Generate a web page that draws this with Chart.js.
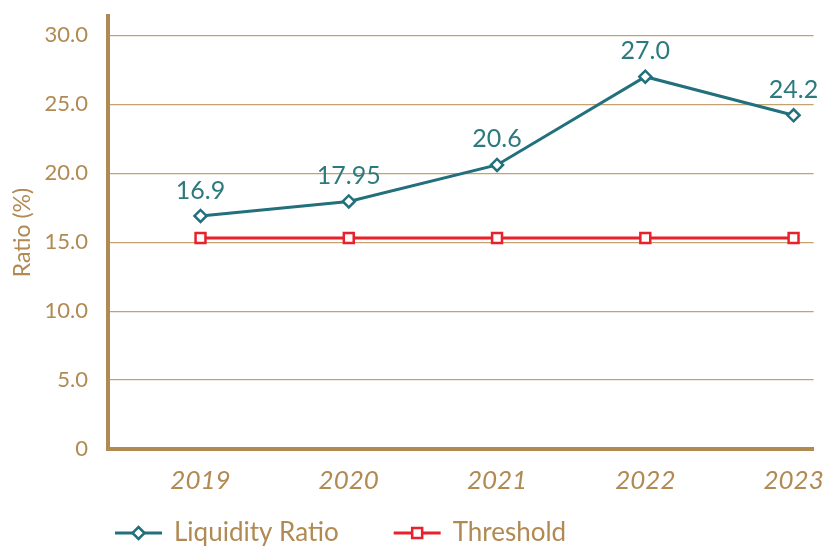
<!DOCTYPE html>
<html>
<head>
<meta charset="utf-8">
<script src="https://cdn.jsdelivr.net/npm/chart.js@4.4.0/dist/chart.umd.min.js"></script>
<style>
html, body { margin: 0; padding: 0; background: #fff; }
#wrap { width: 824px; height: 547px; position: relative; }
</style>
</head>
<body>
<div id="wrap"><canvas id="ratioChart"></canvas></div>
<script>
const years = [2019, 2020, 2021, 2022, 2023];
const liquidityRatio = [16.9, 17.95, 20.6, 27.0, 24.2];
const threshold = [15.3, 15.3, 15.3, 15.3, 15.3];
const yTicks = [0, 5, 10, 15, 20, 25, 30];
const seriesNames = ['Liquidity Ratio', 'Threshold'];

const brown = '#b08a52';
const gridBrown = '#c4a270';
const teal = '#21707c';
const labelTeal = '#2c7a7c';
const red = '#e8212b';
const fontFamily = 'Lato, "Noto Sans", sans-serif';

function fmtLabel(v) {
  return Number.isInteger(v) ? v.toFixed(1) : String(v);
}

// value labels above the liquidity points
const valueLabels = {
  id: 'valueLabels',
  afterDatasetsDraw(chart) {
    const ctx = chart.ctx;
    const meta = chart.getDatasetMeta(0);
    ctx.save();
    ctx.font = '25px ' + fontFamily;
    ctx.fillStyle = labelTeal;
    ctx.textAlign = 'center';
    ctx.textBaseline = 'bottom';
    meta.data.forEach((pt, i) => {
      ctx.fillText(fmtLabel(liquidityRatio[i]), pt.x, pt.y - 13);
    });
    ctx.restore();
  }
};

// legend at the bottom: line + marker + text
const lineLegend = {
  id: 'lineLegend',
  afterDraw(chart) {
    const ctx = chart.ctx;
    const y = 533;
    let x = 115;
    ctx.save();
    ctx.font = '26px ' + fontFamily;
    ctx.textBaseline = 'middle';
    chart.data.datasets.forEach((ds) => {
      ctx.strokeStyle = ds.borderColor;
      ctx.lineWidth = 3;
      ctx.beginPath();
      ctx.moveTo(x, y);
      ctx.lineTo(x + 47, y);
      ctx.stroke();
      const cx = x + 23.5;
      ctx.fillStyle = '#fff';
      ctx.lineWidth = 2.5;
      ctx.beginPath();
      if (ds.pointStyle === 'rectRot') {
        ctx.moveTo(cx, y - 6); ctx.lineTo(cx + 6, y); ctx.lineTo(cx, y + 6); ctx.lineTo(cx - 6, y);
        ctx.closePath();
      } else {
        ctx.rect(cx - 5, y - 5, 10, 10);
      }
      ctx.fill();
      ctx.stroke();
      ctx.fillStyle = brown;
      ctx.fillText(ds.label, x + 59, y);
      x += 59 + ctx.measureText(ds.label).width + 55;
    });
    ctx.restore();
  }
};

new Chart(document.getElementById('ratioChart'), {
  type: 'line',
  data: {
    datasets: [{
      label: seriesNames[0],
      data: years.map((yr, i) => ({ x: yr, y: liquidityRatio[i] })),
      borderColor: teal,
      borderWidth: 3,
      pointStyle: 'rectRot',
      pointRadius: 6,
      pointBorderWidth: 2.5,
      pointBackgroundColor: '#fff',
      pointBorderColor: teal,
      tension: 0
    }, {
      label: seriesNames[1],
      data: years.map((yr, i) => ({ x: yr, y: threshold[i] })),
      borderColor: red,
      borderWidth: 3,
      pointStyle: 'rect',
      pointRadius: 7,
      pointBorderWidth: 2.5,
      pointBackgroundColor: '#fff',
      pointBorderColor: red,
      tension: 0
    }]
  },
  options: {
    responsive: true,
    maintainAspectRatio: false,
    animation: false,
    layout: { padding: { top: 16, right: 0, bottom: 38, left: 0 } },
    plugins: {
      legend: { display: false },
      tooltip: { enabled: false }
    },
    scales: {
      x: {
        type: 'linear',
        min: years[0] - 0.624,
        max: years[years.length - 1] + 0.135,
        afterBuildTicks(scale) { scale.ticks = years.map(v => ({ value: v })); },
        afterFit(scale) { scale.height = 60; },
        grid: { display: false, drawTicks: false },
        border: { display: true, color: brown, width: 4 },
        ticks: {
          color: brown,
          padding: 0,
          autoSkip: false,
          maxRotation: 0,
          font: { family: fontFamily, size: 26, style: 'italic', lineHeight: 2.45 },
          callback: (v) => String(v)
        }
      },
      y: {
        min: 0,
        max: 31.4,
        afterBuildTicks(scale) { scale.ticks = yTicks.map(v => ({ value: v })); },
        afterFit(scale) { scale.width = 108; scale.paddingTop = 0; scale.paddingBottom = 0; },
        grid: { color: gridBrown, lineWidth: 1.2, drawTicks: false },
        border: { display: true, color: brown, width: 4 },
        ticks: {
          color: brown,
          padding: 20,
          font: { family: fontFamily, size: 22 },
          callback: (v) => v === 0 ? '0' : v.toFixed(1)
        },
        title: {
          display: true,
          text: 'Ratio (%)',
          color: brown,
          padding: { top: 9, bottom: 0 },
          font: { family: fontFamily, size: 23 }
        }
      }
    }
  },
  plugins: [valueLabels, lineLegend]
});
</script>
</body>
</html>
